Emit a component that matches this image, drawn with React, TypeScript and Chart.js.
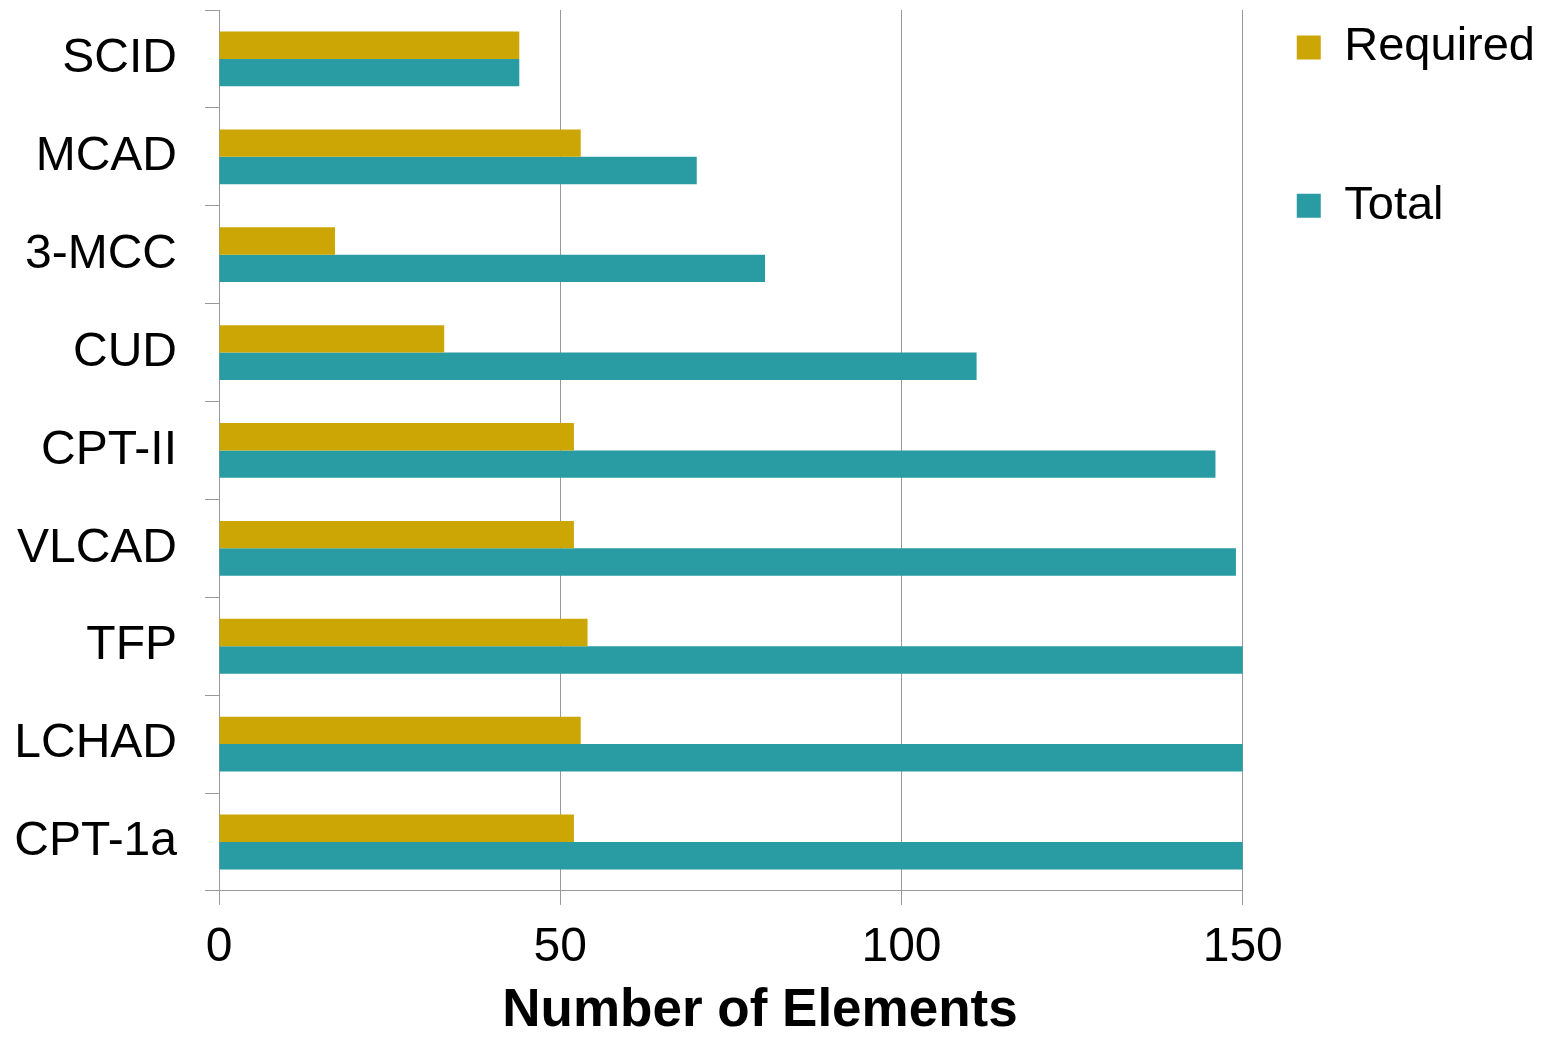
import React, { useEffect, useRef } from 'react';
import { Chart, registerables } from 'chart.js';

Chart.register(...registerables);

const categories = ['SCID', 'MCAD', '3-MCC', 'CUD', 'CPT-II', 'VLCAD', 'TFP', 'LCHAD', 'CPT-1a'];
const requiredValues = [44, 53, 17, 33, 52, 52, 54, 53, 52];
const totalValues = [44, 70, 80, 111, 146, 149, 150, 150, 150];
const xTicks = [0, 50, 100, 150];
const seriesNames = ['Required', 'Total'];
const xAxisTitle = 'Number of Elements';

const FONT = "'Liberation Sans', Arial, Helvetica, sans-serif";
const GOLD = '#CCA604';
const TEAL = '#289BA3';
const GRID = '#999999';

export default function App() {
  const ref = useRef<HTMLCanvasElement | null>(null);

  useEffect(() => {
    if (!ref.current) return;
    Chart.defaults.font.family = FONT;
    Chart.defaults.color = '#000';
    const defaultGen = Chart.defaults.plugins.legend.labels.generateLabels;
    const chart = new Chart(ref.current, {
      type: 'bar',
      data: {
        labels: categories,
        datasets: [
          { label: seriesNames[0], data: requiredValues, backgroundColor: GOLD, borderWidth: 0 },
          { label: seriesNames[1], data: totalValues, backgroundColor: TEAL, borderWidth: 0 },
        ],
      },
      options: {
        indexAxis: 'y',
        animation: false,
        responsive: false,
        maintainAspectRatio: false,
        devicePixelRatio: 1,
        events: [],
        layout: { padding: 0 },
        datasets: { bar: { categoryPercentage: 0.56, barPercentage: 1 } },
        scales: {
          x: {
            type: 'linear',
            min: xTicks[0],
            max: xTicks[xTicks.length - 1],
            ticks: { stepSize: xTicks[1] - xTicks[0], padding: 14, font: { size: 48 }, color: '#000' },
            grid: { color: GRID, lineWidth: 1, tickLength: 14 },
            border: { color: GRID, width: 1 },
          },
          y: {
            type: 'category',
            ticks: { padding: 28, font: { size: 48 }, color: '#000', autoSkip: false },
            grid: { drawOnChartArea: false, tickLength: 14, color: GRID, offset: true },
            border: { color: GRID, width: 1 },
            afterFit: (s: any) => {
              s.width = 244;
              s.paddingTop = 43;
            },
          },
        },
        plugins: {
          legend: {
            position: 'right',
            align: 'start',
            title: { display: true, text: '', font: { size: 3, lineHeight: 1 }, padding: 0 },
            labels: {
              boxWidth: 24,
              boxHeight: 24,
              padding: 54,
              color: '#000',
              font: { size: 47, lineHeight: 1.11 },
              generateLabels: (c: any) => {
                const items = defaultGen(c);
                if (items[0]) items[0].text = [items[0].text as string, ''] as any;
                return items;
              },
            },
          },
          subtitle: {
            display: true,
            position: 'bottom',
            text: xAxisTitle,
            color: '#000',
            font: { size: 53, weight: 'bold', lineHeight: 0.66 },
            padding: { top: 3, bottom: 8.5 },
          },
          tooltip: { enabled: false },
        },
      } as any,
    });
    return () => chart.destroy();
  }, []);

  return (
    <div style={{ position: 'fixed', left: 0, top: 0, width: 1545, height: 1037, overflow: 'hidden', background: '#fff' }}>
      <canvas
        ref={ref}
        width={1570}
        height={1070}
        style={{ position: 'absolute', left: -25, top: -33, width: 1570, height: 1070 }}
      />
    </div>
  );
}
